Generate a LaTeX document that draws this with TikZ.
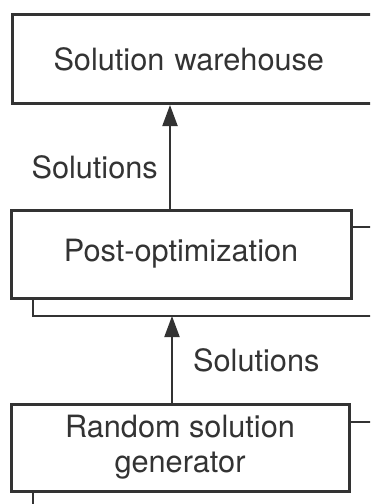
\documentclass[tikz,border=0pt]{standalone}
\usepackage{fontspec}
\setmainfont{TeX Gyre Heros}
\usetikzlibrary{arrows.meta}
\definecolor{ink}{HTML}{333333}
\tikzset{
  block/.style={draw=ink, line width=3pt, text=ink, align=center,
    font=\fontsize{30.7}{35}\selectfont},
  link/.style={draw=ink, line width=2pt},
  flow/.style={link, -{Triangle[length=21pt,width=15pt]}},
  lbl/.style={text=ink, inner sep=0pt, font=\fontsize{30.7}{35}\selectfont}
}
\begin{document}
\begin{tikzpicture}[x=1pt,y=-1pt]
            \useasboundingbox (0,0) rectangle (370,504);
            \clip (0,0) rectangle (370,504);

            % boxes
            \node[block, anchor=north west, align=left, text width=340pt,
                  inner xsep=41pt, minimum height=89pt] (ware) at (11,13) {Solution warehouse};
            \node[block, minimum width=340pt, minimum height=88pt] (post) at (181,254) {Post-optimization};
            \node[block, minimum width=338pt, minimum height=87pt] (gen) at (180,447.5) {Random solution\\generator};

            % lines leaving the picture
            \coordinate (busL) at (33,316);
            \coordinate (busR) at (380,316);
            \draw[link] (post.south -| busL) -- (busL) -- (busR);
            \draw[link] ([yshift=27pt]post.east) -- ++(30,0);
            \draw[link] ([yshift=25.5pt]gen.east) -- ++(30,0);
            \draw[link] (gen.south -| busL) -- ++(0,20);

            % flows
            \draw[flow] ([xshift=-11pt]post.north) -- ([xshift=-11pt]post.north |- ware.south);
            \draw[flow] ([xshift=-8pt]gen.north) -- ([xshift=-8pt]gen.north |- busL);

            \node[lbl, anchor=east] (sol1) at (158,167) {Solutions};
            \node[lbl, anchor=west] (sol2) at (193,360) {Solutions};
\end{tikzpicture}
\end{document}
